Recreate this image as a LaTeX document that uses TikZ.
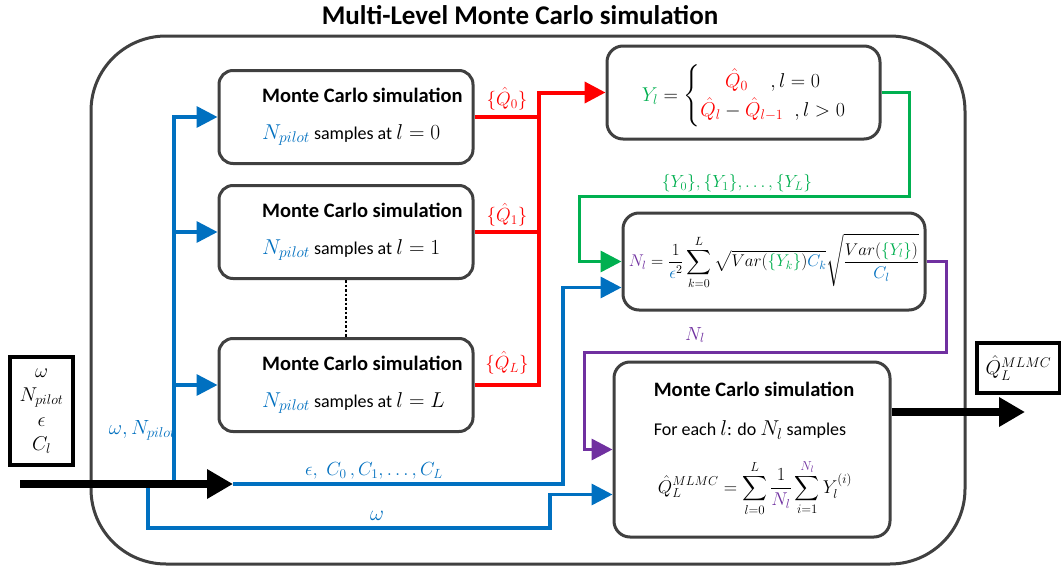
\documentclass[tikz,border=0pt]{standalone}
\usepackage{fix-cm}
\usepackage{amsmath}
\usepackage{fontspec}
\setmainfont{Carlito}
\usetikzlibrary{arrows.meta}

% math set a little larger than the surrounding Carlito text
\DeclareMathSizes{18}{21.5}{15.5}{11}

\definecolor{cblue}{RGB}{0,112,192}
\definecolor{cred}{RGB}{255,0,0}
\definecolor{cgreen}{RGB}{0,176,80}
\definecolor{cpurple}{RGB}{112,48,160}
\definecolor{cgray}{RGB}{64,64,64}

\newcommand{\mctitlefont}{\fontsize{20.5}{24}\selectfont\bfseries}
\newcommand{\mcbodyfont}{\fontsize{18}{22}\selectfont}
\newcommand{\pilotmc}[1]{{\mcbodyfont\textcolor{cblue}{$N_{pilot}$} samples at $l=#1$}}

\tikzset{
  mcbox/.style={draw=cgray, line width=3pt, rounded corners=14pt,
    minimum width=254pt, minimum height=93pt, inner sep=0pt},
  fbox/.style={draw=cgray, line width=3pt, rounded corners=16pt, inner sep=0pt},
  iobox/.style={draw=black, line width=4pt, inner sep=0pt},
  tip/.style={-{Triangle[length=21pt,width=21pt]}},
  bluel/.style={draw=cblue, line width=3.5pt},
  redl/.style={draw=cred, line width=4pt},
  greenl/.style={draw=cgreen, line width=3.5pt},
  purplel/.style={draw=cpurple, line width=3.5pt},
  bigarrow/.style={draw=black, line width=8pt, -{Triangle[length=26pt,width=28pt]}},
  txt/.style={inner sep=0pt},
}

\begin{document}
\begin{tikzpicture}[x=1pt,y=-1pt]
\useasboundingbox (0,0) rectangle (1061,570);
\fill[white] (0,0) rectangle (1061,570);

% title and enclosing frame
\node[txt] (title) at (520,15) {\fontsize{27}{32}\selectfont\bfseries Multi-Level Monte Carlo simulation};
\node[draw=cgray, line width=3pt, rounded corners=75pt, minimum width=874pt,
      minimum height=528pt, inner sep=0pt] (frame) at (528,300) {};

% inputs and output
\node[iobox, minimum width=63pt, minimum height=108pt, align=center,
      font=\fontsize{20}{24.5}\selectfont] (inbox) at (41.5,411)
  {$\omega$\\ $N_{pilot}$\\ $\epsilon$\\ $C_l$};
\node[iobox, minimum width=83pt, minimum height=50pt,
      font=\fontsize{20}{24}\selectfont] (outbox) at (1018.5,368)
  {$\hat{Q}_L^{MLMC}$};

% pilot-run Monte Carlo boxes
\node[mcbox] (mc0) at (346,117) {};
\node[mcbox] (mc1) at (346,232) {};
\node[mcbox] (mcL) at (346,385) {};
\node[txt, anchor=west] (mc0t) at (262,95) {\mctitlefont Monte Carlo simulation};
\node[txt, anchor=west] (mc0s) at (262,135) {\pilotmc{0}};
\node[txt, anchor=west] (mc1t) at (262,210) {\mctitlefont Monte Carlo simulation};
\node[txt, anchor=west] (mc1s) at (262,250) {\pilotmc{1}};
\node[txt, anchor=west] (mcLt) at (262,363) {\mctitlefont Monte Carlo simulation};
\node[txt, anchor=west] (mcLs) at (262,403) {\pilotmc{L}};
\draw[black, line width=2.5pt, dotted] (mc1.south) -- (mcL.north);

% level differences
\node[fbox, minimum width=273pt, minimum height=93pt] (ybox) at (743.5,92.5) {};
\node[txt, font=\fontsize{20}{24}\selectfont] (yform) at (744,96)
  {$\textcolor{cgreen}{Y_l}=\left\{\begin{array}{@{}c@{}}
     \textcolor{cred}{\hat{Q}_0}\;\;\;\;,l=0\\[3pt]
     \textcolor{cred}{\hat{Q}_l}-\textcolor{cred}{\hat{Q}_{l-1}}\;\;,l>0
   \end{array}\right.$};

% optimal number of samples
\node[fbox, minimum width=302pt, minimum height=97pt,
      font=\fontsize{17}{20}\selectfont] (nl) at (774,261.5)
  {$\displaystyle \textcolor{cpurple}{N_l}=\frac{1}{\textcolor{cblue}{\epsilon}^2}
   \sum_{k=0}^{L}\sqrt{Var(\textcolor{cgreen}{\{Y_k\}})\textcolor{cblue}{C_k}}
   \sqrt{\frac{Var(\textcolor{cgreen}{\{Y_l\}})}{\textcolor{cblue}{C_l}}}$};

% final multi-level estimator
\node[fbox, minimum width=276pt, minimum height=175pt] (mcf) at (752,449.5) {};
\node[txt] (mcft) at (754,389) {\mctitlefont Monte Carlo simulation};
\node[txt] (mcfs) at (750,430) {\mcbodyfont For each $l$: do $N_l$ samples};
\node[txt, font=\fontsize{18.5}{22}\selectfont] (mcfq) at (755,488)
  {$\displaystyle \hat{Q}_L^{MLMC}=\sum_{l=0}^{L}\frac{1}{\textcolor{cpurple}{N_l}}
   \sum_{i=1}^{\textcolor{cpurple}{N_l}}Y_l^{(i)}$};

% input distribution
\coordinate (src) at (20,484);
\coordinate (hub) at (233,484);
\coordinate (tapA) at (174,484);
\coordinate (tapB) at (148,486);
\draw[bluel, tip] (tapA) |- (mc0.west);
\draw[bluel, tip] (tapA) |- (mc1.west);
\draw[bluel, tip] (tapA) |- (mcL.west);
\draw[bluel, tip] (hub) -- ++(330,0) |- ([yshift=-26pt]nl.west);
\draw[bluel, tip] (tapB) -- ++(0,42) -- ++(402,0) |- ([yshift=-45pt]mcf.west);
\draw[bigarrow] (src) -- (hub);
\node[txt, anchor=east, text=cblue, font=\fontsize{20.5}{24}\selectfont] (lblwn) at (176,430)
  {$\omega,N_{pilot}$};
\node[txt, text=cblue, font=\fontsize{19}{22}\selectfont] (lblec) at (374,471)
  {$\epsilon,\; C_0\,,C_1,\ldots,C_L$};
\node[txt, text=cblue, font=\fontsize{18}{21}\selectfont] (lblw) at (377,516) {$\omega$};

% pilot results to the level differences
\coordinate (rbus) at (539,0);
\draw[redl] (mc0.east) -- (mc0.east -| rbus);
\draw[redl] (mc1.east) -- (mc1.east -| rbus);
\draw[redl, tip] (mcL.east) -| (rbus |- ybox.west) -- (ybox.west);
\node[txt, text=cred, font=\fontsize{19}{22}\selectfont] (lq0) at (507,99) {$\{\hat{Q}_0\}$};
\node[txt, text=cred, font=\fontsize{19}{22}\selectfont] (lq1) at (507,215) {$\{\hat{Q}_1\}$};
\node[txt, text=cred, font=\fontsize{19}{22}\selectfont] (lqL) at (507,363) {$\{\hat{Q}_L\}$};

% level differences to the sample-size formula
\draw[greenl, tip] (ybox.east) -- ++(28,0) -- ++(0,104) -- ++(-330,0) |- (nl.west);
\node[txt, text=cgreen, font=\fontsize{17.5}{21}\selectfont] (lys) at (737,183)
  {$\{Y_0\},\{Y_1\},\ldots,\{Y_L\}$};

% sample sizes to the final estimator
\draw[purplel, tip] (nl.east) -- ++(20,0) -- ++(0,91) -- ++(-362,0) |- (mcf.west);
\node[txt, text=cpurple, font=\fontsize{19}{22}\selectfont] (lnl) at (695,335) {$N_l$};

% estimator output
\coordinate (outtip) at (1025,412);
\draw[bigarrow] (mcf.east |- outtip) -- (outtip);
\end{tikzpicture}
\end{document}
